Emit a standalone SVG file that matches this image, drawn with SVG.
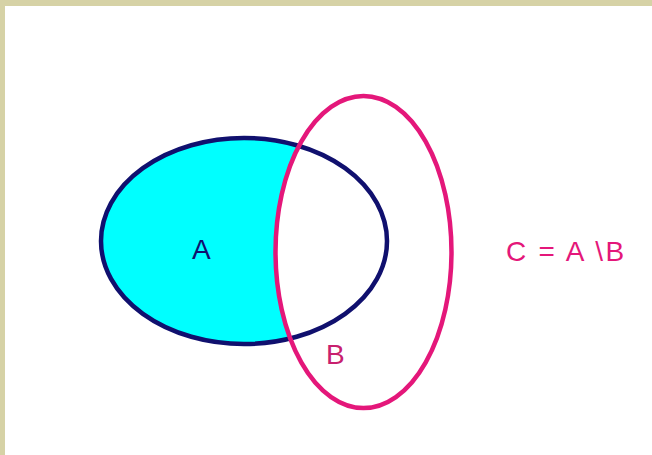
<svg xmlns="http://www.w3.org/2000/svg" width="652" height="455" viewBox="0 0 652 455">
<style>
.lbl{font-family:"Liberation Sans",Arial,sans-serif;font-size:28px}
.navy{stroke:#10106e;stroke-width:4.5;fill:none}
.pink{stroke:#e4177a;stroke-width:4.5;fill:none}
</style>
<rect x="0" y="0" width="652" height="455" fill="#ffffff"/>
<rect x="0" y="0" width="652" height="6" fill="#d6d2a6"/>
<rect x="0" y="0" width="5" height="455" fill="#d6d2a6"/>
<g id="setA">
<ellipse cx="244" cy="241" rx="143" ry="103" fill="#00ffff"/>
</g>
<g id="setB">
<ellipse cx="363.5" cy="252" rx="88" ry="156" fill="#ffffff"/>
</g>
<g id="connectors">
<ellipse class="navy" cx="244" cy="241" rx="143" ry="103"/>
<ellipse class="pink" cx="363.5" cy="252" rx="88" ry="156"/>
</g>
<g id="labels">
<text class="lbl" x="192" y="259" fill="#10106e">A</text>
<text class="lbl" x="326" y="364" fill="#c8206e">B</text>
<text class="lbl" x="506" y="261" fill="#e4177a" letter-spacing="2.3">C = A \B</text>
</g>
</svg>
